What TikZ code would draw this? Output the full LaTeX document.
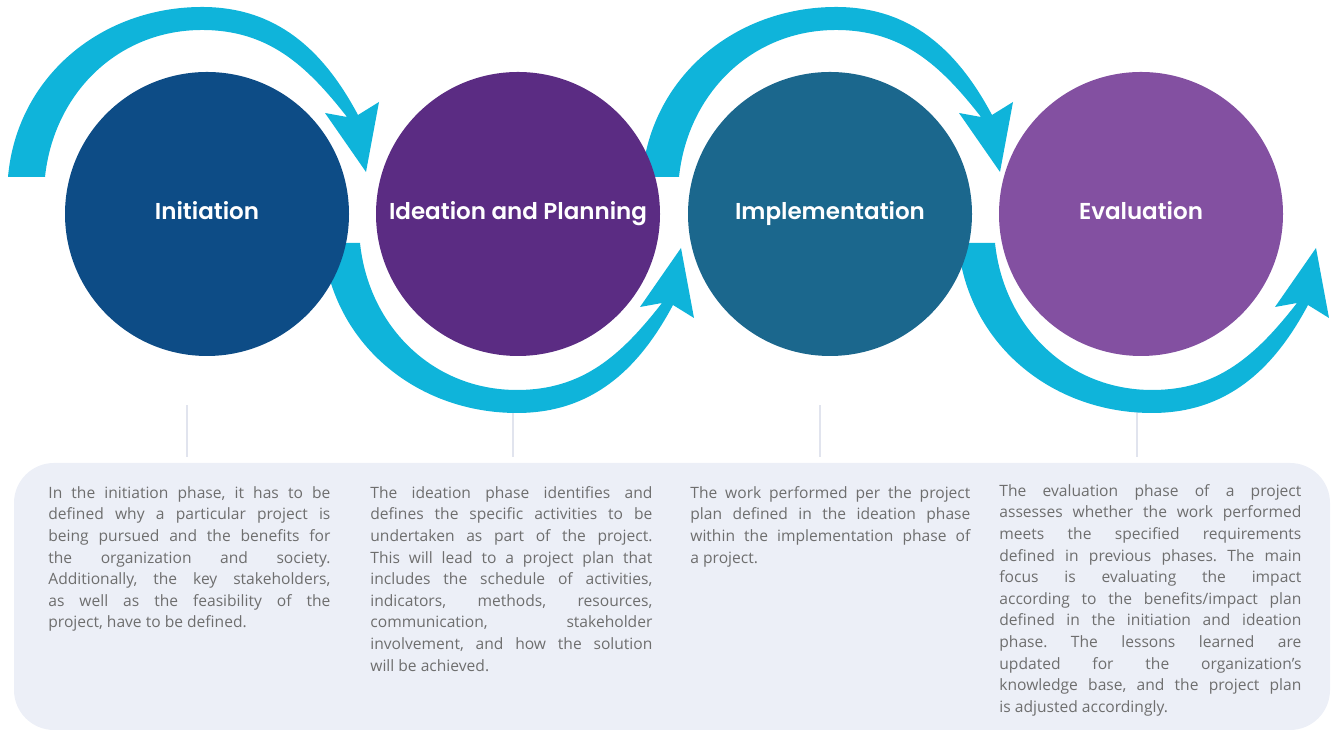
\documentclass[tikz,border=0pt]{standalone}
\usepackage{fontspec, xcolor}
\setmainfont{Open Sans}
\newfontfamily\headfont{Poppins SemiBold}
\frenchspacing

\definecolor{loopcyan}{HTML}{0FB4DA}
\definecolor{initblue}{HTML}{0D4C86}
\definecolor{ideapurple}{HTML}{5B2C83}
\definecolor{impteal}{HTML}{1B678D}
\definecolor{evalviolet}{HTML}{8350A1}
\definecolor{panelgrey}{HTML}{ECEFF7}
\definecolor{textgrey}{HTML}{6E6E6E}
\definecolor{rulegrey}{HTML}{E1E4EE}

% tapered curved arrow, tail on the left, head on the right
\newcommand{\phasearrow}{%
    \fill[loopcyan] (-199,33) to[out=85,in=180] (-5,203) to[out=0,in=118] (151,95)
        -- (172,108) -- (159,38) -- (118,97) -- (140,93)
        to[out=128,in=0] (-5,180) to[out=180,in=84] (-162,33) -- cycle;}

\tikzset{
    phase/.style={circle, minimum size=142pt, inner sep=0pt, text=white,
        text height=8.5pt, text depth=2.5pt,
        font=\headfont\fontsize{11.5}{14}\selectfont},
    desc/.style={anchor=north west, inner sep=0pt, align=justify, text=textgrey,
        font=\fontsize{7.8}{10.8}\selectfont},
    sepline/.style={rulegrey, line width=1pt}
}

\begin{document}
\begin{tikzpicture}[x=0.5pt, y=0.5pt]
    \useasboundingbox (0,0) rectangle (1334,731);

    % panel for the descriptions
    \fill[panelgrey, rounded corners=20pt] (14,1) rectangle (1330,268);
    \foreach \x in {187,513,820,1137}
        \draw[sepline] (\x,326) -- (\x,274);

    % arrows between the phases
    \begin{scope}[shift={(207,521)}]
        \phasearrow
    \end{scope}
    \begin{scope}[shift={(522,521)}, yscale=-1]
        \phasearrow
    \end{scope}
    \begin{scope}[shift={(841,521)}]
        \phasearrow
    \end{scope}
    \begin{scope}[shift={(1157,521)}, yscale=-1]
        \phasearrow
    \end{scope}

    % phases
    \node[phase, fill=initblue] (init) at (207,517) {Initiation};
    \node[phase, fill=ideapurple] (idea) at (518,517) {Ideation and Planning};
    \node[phase, fill=impteal] (impl) at (830,517) {Implementation};
    \node[phase, fill=evalviolet] (eval) at (1141,517) {Evaluation};

    \node[desc, text width=141pt] (initdesc) at (48,245) {In the initiation phase, it has to be\linebreak
        defined why a particular project is\linebreak
        being pursued and the benefits for\linebreak
        the organization and society.\linebreak
        Additionally, the key stakeholders,\linebreak
        as well as the feasibility of the\linebreak
        project, have to be defined.};
    \node[desc, text width=141pt] (ideadesc) at (370,245) {The ideation phase identifies and\linebreak
        defines the specific activities to be\linebreak
        undertaken as part of the project.\linebreak
        This will lead to a project plan that\linebreak
        includes the schedule of activities,\linebreak
        indicators, methods, resources,\linebreak
        communication, stakeholder\linebreak
        involvement, and how the solution\linebreak
        will be achieved.};
    \node[desc, text width=140pt] (impldesc) at (690,245) {The work performed per the project\linebreak
        plan defined in the ideation phase\linebreak
        within the implementation phase of\linebreak
        a project.};
    \node[desc, text width=151pt] (evaldesc) at (999,247) {The evaluation phase of a project\linebreak
        assesses whether the work performed\linebreak
        meets the specified requirements\linebreak
        defined in previous phases. The main\linebreak
        focus is evaluating the impact\linebreak
        according to the benefits/impact plan\linebreak
        defined in the initiation and ideation\linebreak
        phase. The lessons learned are\linebreak
        updated for the organization's\linebreak
        knowledge base, and the project plan\linebreak
        is adjusted accordingly.};
\end{tikzpicture}
\end{document}
